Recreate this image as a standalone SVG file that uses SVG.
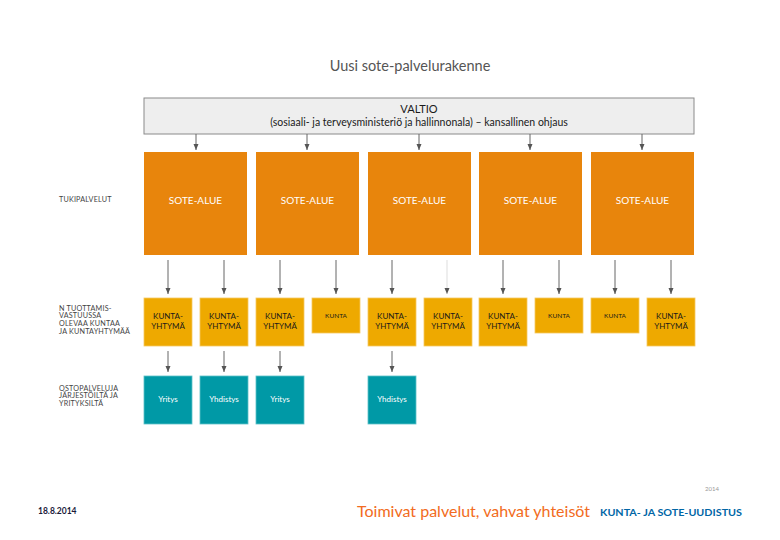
<svg xmlns="http://www.w3.org/2000/svg" width="780" height="540" viewBox="0 0 780 540">
<defs>
<marker id="ah" viewBox="0 0 6 6" refX="6" refY="3" markerWidth="6" markerHeight="6" markerUnits="userSpaceOnUse" orient="auto">
<path d="M0,0.5 L6,3 L0,5.5 Z" fill="#555"/>
</marker>
<style>
text{font-family:Lato,"Open Sans","Liberation Sans",sans-serif}
.lbl{font-size:7.2px;fill:#444;letter-spacing:0.2px}
.sote{fill:#E8850C}
.kt{fill:#EEA900;stroke:#F5C860;stroke-width:0.8}
.yr{fill:#0099A6;stroke:#5CC0C8;stroke-width:0.8}
.wt{fill:#fff;font-size:10px;text-anchor:middle}
.bt{fill:#1a1a1a;font-size:8px;text-anchor:middle}
.st{fill:#1a1a1a;font-size:6.5px;text-anchor:middle}
.yt{fill:#fff;font-size:8px;text-anchor:middle}
.conn line{stroke:#666;stroke-width:1;marker-end:url(#ah)}
</style>
</defs>
<rect width="780" height="540" fill="#fff"/>
<text x="410" y="71" text-anchor="middle" font-size="14.5" fill="#555">Uusi sote-palvelurakenne</text>

<g id="valtio">
<rect x="144" y="98" width="550" height="36" fill="#EEEEEE" stroke="#8a8a8a" stroke-width="1"/>
<text x="419" y="113" text-anchor="middle" font-size="11" fill="#1a1a1a">VALTIO</text>
<text x="419" y="126" text-anchor="middle" font-size="10.5" fill="#1a1a1a">(sosiaali- ja terveysministeriö ja hallinnonala) – kansallinen ohjaus</text>
</g>

<g id="labels">
<text class="lbl" x="59" y="202">TUKIPALVELUT</text>
<text class="lbl" x="59" y="310.5">N TUOTTAMIS-</text>
<text class="lbl" x="59" y="318">VASTUUSSA</text>
<text class="lbl" x="59" y="326">OLEVAA KUNTAA</text>
<text class="lbl" x="59" y="333.5">JA KUNTAYHTYMÄÄ</text>
<text class="lbl" x="59" y="390.5">OSTOPALVELUJA</text>
<text class="lbl" x="59" y="398">JÄRJESTÖILTÄ JA</text>
<text class="lbl" x="59" y="405.5">YRITYKSILTÄ</text>
</g>

<g id="sote1"><rect class="sote" x="144" y="152" width="103" height="103"/><text class="wt" x="195.5" y="204">SOTE-ALUE</text></g>
<g id="sote2"><rect class="sote" x="256" y="152" width="103" height="103"/><text class="wt" x="307.5" y="204">SOTE-ALUE</text></g>
<g id="sote3"><rect class="sote" x="368" y="152" width="103" height="103"/><text class="wt" x="419.5" y="204">SOTE-ALUE</text></g>
<g id="sote4"><rect class="sote" x="479" y="152" width="103" height="103"/><text class="wt" x="530.5" y="204">SOTE-ALUE</text></g>
<g id="sote5"><rect class="sote" x="591" y="152" width="103" height="103"/><text class="wt" x="642.5" y="204">SOTE-ALUE</text></g>

<g id="k1"><rect class="kt" x="144" y="298" width="48" height="48"/><text class="bt" x="168" y="319">KUNTA-</text><text class="bt" x="168" y="329">YHTYMÄ</text></g>
<g id="k2"><rect class="kt" x="200" y="298" width="48" height="48"/><text class="bt" x="224" y="319">KUNTA-</text><text class="bt" x="224" y="329">YHTYMÄ</text></g>
<g id="k3"><rect class="kt" x="256" y="298" width="48" height="48"/><text class="bt" x="280" y="319">KUNTA-</text><text class="bt" x="280" y="329">YHTYMÄ</text></g>
<g id="k4"><rect class="kt" x="312" y="298" width="48" height="35"/><text class="st" x="336" y="318">KUNTA</text></g>
<g id="k5"><rect class="kt" x="368" y="298" width="48" height="48"/><text class="bt" x="392" y="319">KUNTA-</text><text class="bt" x="392" y="329">YHTYMÄ</text></g>
<g id="k6"><rect class="kt" x="424" y="298" width="48" height="48"/><text class="bt" x="448" y="319">KUNTA-</text><text class="bt" x="448" y="329">YHTYMÄ</text></g>
<g id="k7"><rect class="kt" x="479" y="298" width="48" height="48"/><text class="bt" x="503" y="319">KUNTA-</text><text class="bt" x="503" y="329">YHTYMÄ</text></g>
<g id="k8"><rect class="kt" x="535" y="298" width="48" height="35"/><text class="st" x="559" y="318">KUNTA</text></g>
<g id="k9"><rect class="kt" x="591" y="298" width="48" height="35"/><text class="st" x="615" y="318">KUNTA</text></g>
<g id="k10"><rect class="kt" x="647" y="298" width="48" height="48"/><text class="bt" x="671" y="319">KUNTA-</text><text class="bt" x="671" y="329">YHTYMÄ</text></g>

<g id="y1"><rect class="yr" x="144" y="376" width="48" height="48"/><text class="yt" x="168" y="402">Yritys</text></g>
<g id="y2"><rect class="yr" x="200" y="376" width="48" height="48"/><text class="yt" x="224" y="402">Yhdistys</text></g>
<g id="y3"><rect class="yr" x="256" y="376" width="48" height="48"/><text class="yt" x="280" y="402">Yritys</text></g>
<g id="y4"><rect class="yr" x="368" y="376" width="48" height="48"/><text class="yt" x="392" y="402">Yhdistys</text></g>

<g class="conn" id="connectors">
<line x1="196" y1="134" x2="196" y2="150"/>
<line x1="307" y1="134" x2="307" y2="150"/>
<line x1="419" y1="134" x2="419" y2="150"/>
<line x1="530" y1="134" x2="530" y2="150"/>
<line x1="642" y1="134" x2="642" y2="150"/>
<line x1="168" y1="260" x2="168" y2="294"/>
<line x1="224" y1="260" x2="224" y2="294"/>
<line x1="280" y1="260" x2="280" y2="294"/>
<line x1="336" y1="260" x2="336" y2="294"/>
<line x1="392" y1="260" x2="392" y2="294"/>
<line x1="447" y1="260" x2="447" y2="294" style="stroke:#ddd"/>
<line x1="503" y1="260" x2="503" y2="294"/>
<line x1="559" y1="260" x2="559" y2="294"/>
<line x1="615" y1="260" x2="615" y2="294"/>
<line x1="671" y1="260" x2="671" y2="294"/>
<line x1="168" y1="351" x2="168" y2="372"/>
<line x1="224" y1="351" x2="224" y2="372"/>
<line x1="280" y1="351" x2="280" y2="372"/>
<line x1="392" y1="351" x2="392" y2="372"/>
</g>

<text x="712" y="491" font-size="6" fill="#999" text-anchor="middle">2014</text>
<text x="38" y="514" font-size="8.5" font-weight="bold" fill="#1a1a3a" font-family="'Liberation Sans',sans-serif">18.8.2014</text>
<text x="357" y="517" font-size="16" fill="#F26B21" textLength="233" lengthAdjust="spacingAndGlyphs">Toimivat palvelut, vahvat yhteisöt</text>
<text x="600" y="516" font-size="10" font-weight="bold" fill="#0066A6" textLength="142" lengthAdjust="spacingAndGlyphs">KUNTA- JA SOTE-UUDISTUS</text>
</svg>
